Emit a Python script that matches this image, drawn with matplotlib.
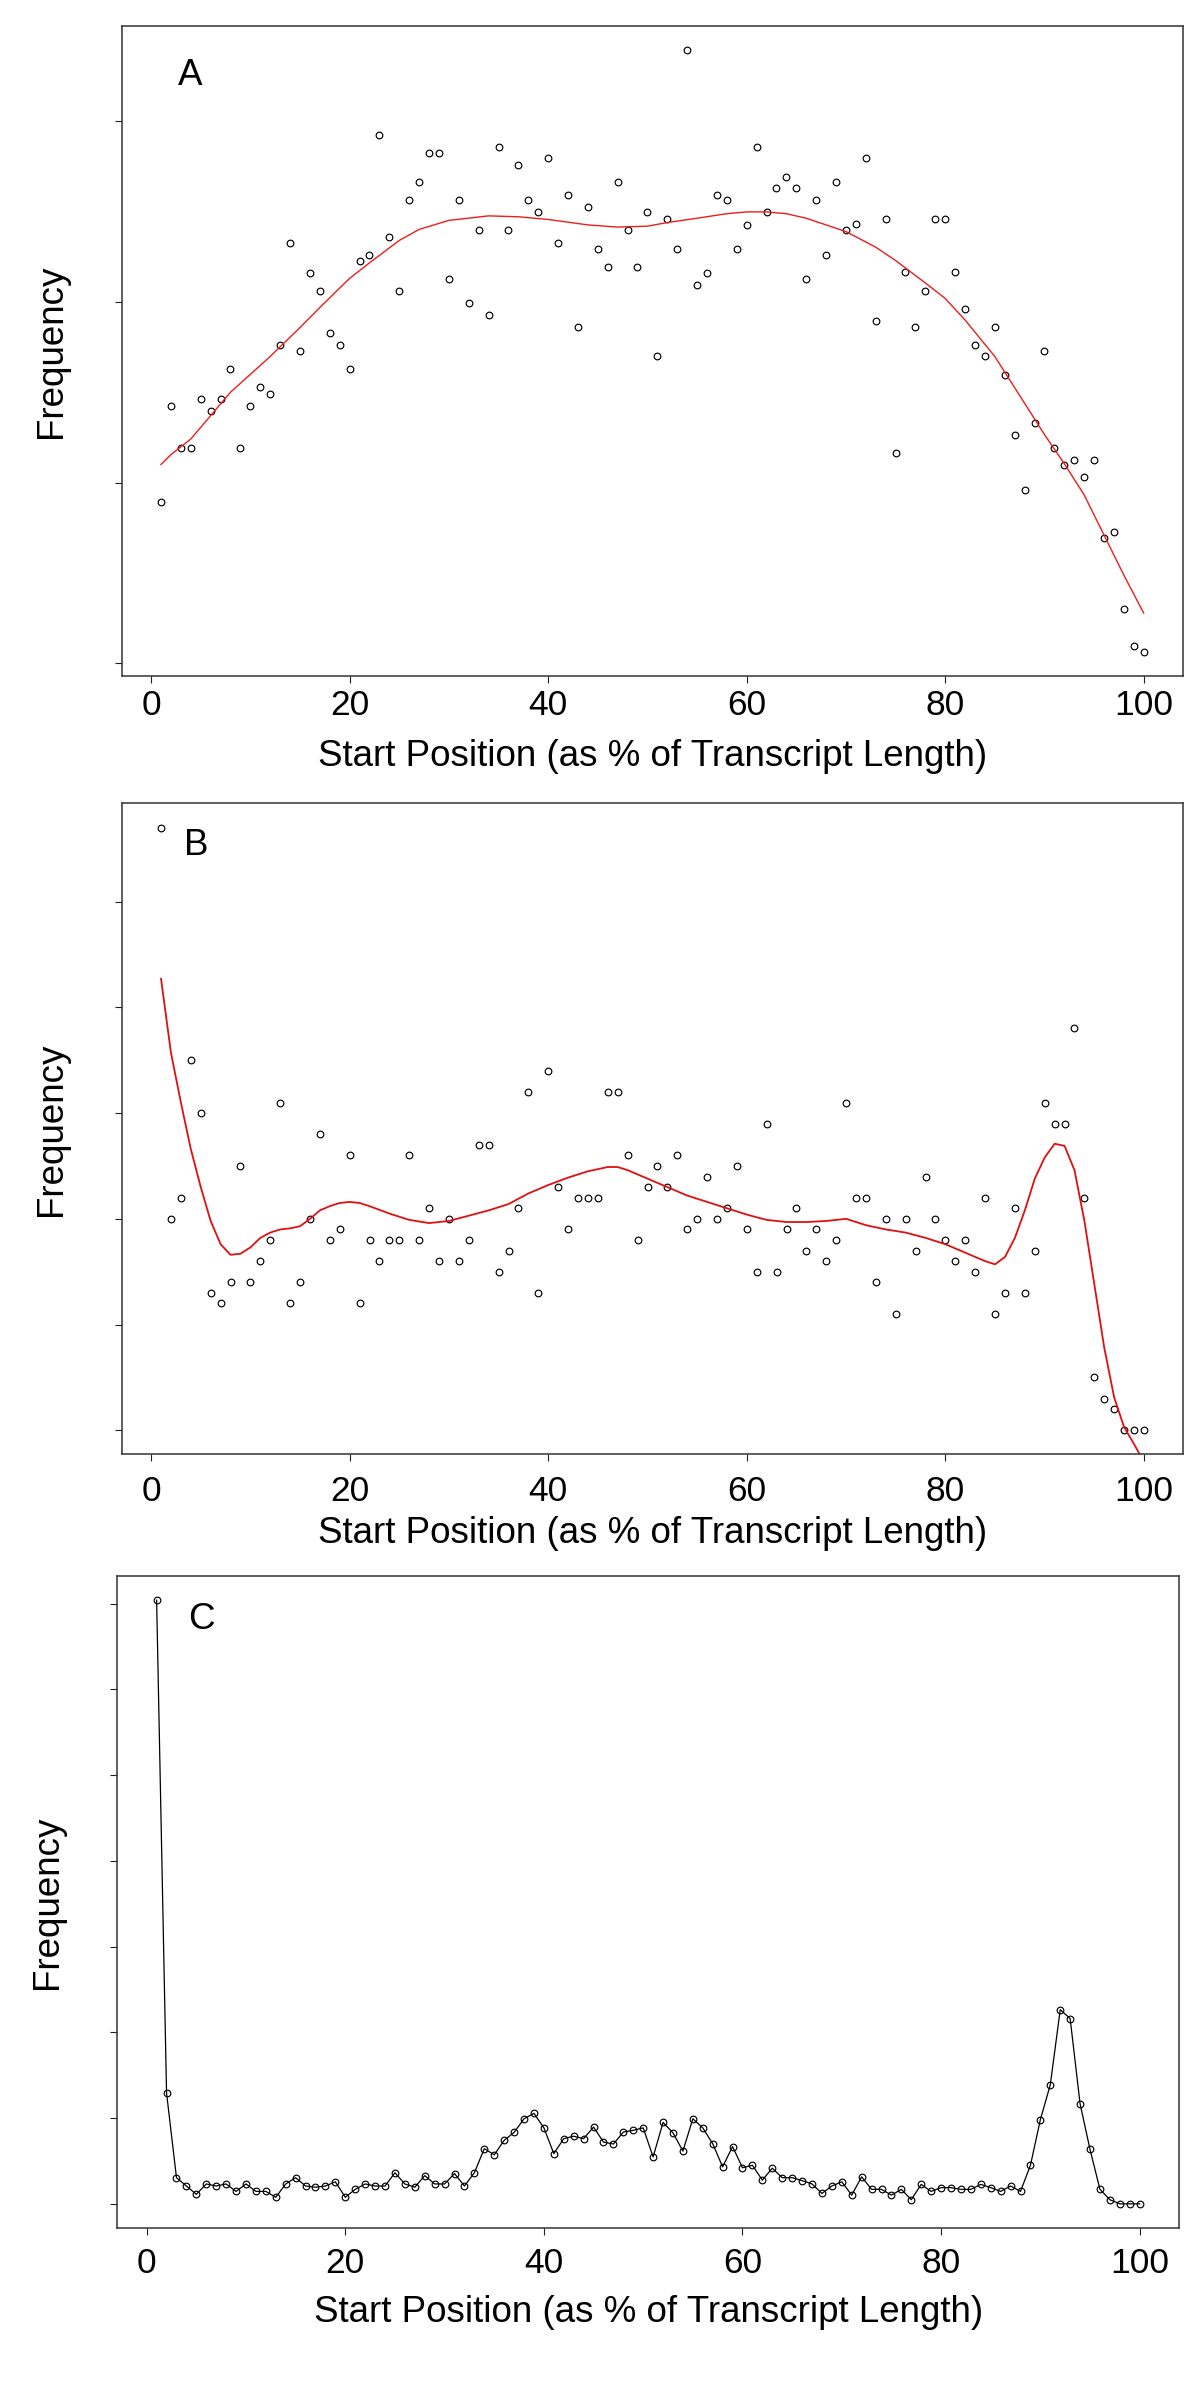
"""Start-position frequency profiles along transcripts (panels A, B, C)."""

import matplotlib
matplotlib.use("Agg")
import matplotlib.pyplot as plt
import numpy as np

plt.rcParams["font.family"] = ["Liberation Sans", "DejaVu Sans"]

positions = list(range(1, 101))
x_ticks = [0, 20, 40, 60, 80, 100]

# Panel A: scatter + smooth fit (y in arbitrary units, ticks unlabelled)
freq_a = [
    89.1, 142.7, 119.5, 119.5, 146.4, 139.8, 146.4, 163.0, 119.5, 142.7,
    153.1, 149.4, 176.0, 232.8, 172.8, 216.3, 205.9, 182.7, 176.0, 163.0,
    222.5, 226.2, 292.6, 236.0, 205.9, 256.3, 266.2, 282.7, 282.7, 212.8,
    256.3, 199.3, 239.8, 193.1, 285.9, 239.8, 276.0, 256.3, 249.6, 279.8,
    232.8, 259.5, 186.4, 252.8, 229.4, 219.5, 266.2, 239.8, 219.5, 249.6,
    169.9, 245.9, 229.4, 339.5, 209.6, 216.3, 259.5, 256.3, 229.4, 242.7,
    285.9, 249.6, 263.2, 269.4, 263.2, 212.8, 256.3, 226.2, 266.2, 239.8,
    243.0, 279.8, 189.4, 245.9, 116.3, 216.5, 186.4, 205.9, 245.9, 245.9,
    216.5, 196.3, 176.0, 169.9, 186.4, 159.5, 126.2, 96.0, 133.1, 172.8,
    119.5, 109.6, 112.8, 103.0, 112.8, 69.6, 72.8, 29.9, 9.6, 6.4,
]
smooth_a_x = [1, 2, 4, 8, 10, 12, 15, 17, 20, 22, 25, 27, 30, 34, 37, 40, 44,
              47, 50, 52, 55, 58, 60, 62, 64, 66, 68, 70, 73, 75, 78, 80, 82,
              85, 88, 90, 92, 94, 96, 98, 100]
smooth_a_y = [110.1, 115.6, 124.2, 150.1, 160.0, 169.9, 185.9, 197.0, 213.1,
              221.7, 234.1, 240.2, 245.2, 247.7, 247.2, 245.7, 242.7, 241.5,
              242.0, 244.0, 246.4, 248.9, 249.9, 249.9, 248.9, 246.4, 242.7,
              239.0, 230.4, 223.0, 210.6, 202.0, 190.1, 169.9, 144.0, 126.7,
              110.6, 93.3, 71.1, 48.9, 27.9]
y_ticks_a = [0, 100, 200, 300]

# Panel B: scatter + smooth fit
freq_b = [
    57, 20, 22, 35, 30, 13, 12, 14, 25, 14,
    16, 18, 31, 12, 14, 20, 28, 18, 19, 26,
    12, 18, 16, 18, 18, 26, 18, 21, 16, 20,
    16, 18, 27, 27, 15, 17, 21, 32, 13, 34,
    23, 19, 22, 22, 22, 32, 32, 26, 18, 23,
    25, 23, 26, 19, 20, 24, 20, 21, 25, 19,
    15, 29, 15, 19, 21, 17, 19, 16, 18, 31,
    22, 22, 14, 20, 11, 20, 17, 24, 20, 18,
    16, 18, 15, 22, 11, 13, 21, 13, 17, 31,
    29, 29, 38, 22, 5, 3, 2, 0, 0, 0,
]
smooth_b_x = [1, 2, 3, 4, 5, 6, 7, 8, 9, 10, 11, 12, 13, 14, 15, 16, 17, 18,
              19, 20, 21, 22, 24, 26, 28, 30, 32, 34, 36, 38, 40, 42, 44, 46,
              47, 48, 50, 52, 54, 56, 58, 60, 62, 64, 66, 68, 70, 72, 74, 76,
              78, 80, 82, 84, 85, 86, 87, 88, 89, 90, 91, 92, 93, 94, 95, 96,
              97, 98, 99, 100]
smooth_b_y = [42.7, 35.7, 31.0, 26.6, 23.0, 19.8, 17.6, 16.6, 16.7, 17.3,
              18.2, 18.7, 19.0, 19.1, 19.3, 20.0, 20.8, 21.2, 21.5, 21.6,
              21.5, 21.2, 20.5, 19.9, 19.6, 19.8, 20.3, 20.8, 21.4, 22.4,
              23.2, 23.9, 24.5, 24.9, 24.9, 24.6, 23.8, 23.0, 22.2, 21.6,
              21.0, 20.4, 19.9, 19.7, 19.7, 19.8, 20.0, 19.4, 19.0, 18.7,
              18.2, 17.6, 16.8, 16.0, 15.7, 16.4, 18.2, 20.8, 23.8, 25.8,
              27.1, 26.9, 24.6, 19.8, 13.8, 7.8, 3.1, 0.3, -1.3, -3.0]
y_ticks_b = [0, 10, 20, 30, 40, 50]

# Panel C: points joined by a line
freq_c = [
    704, 129.2, 30.5, 20.8, 11.1, 23.2, 20.8, 23.2, 14.5, 23.2,
    14.5, 14.5, 7.7, 23.2, 30.5, 20.8, 19.4, 20.8, 25.7, 7.7,
    16.9, 23.2, 20.8, 20.8, 36.3, 23.2, 19.4, 32.9, 23.2, 23.2,
    35.3, 20.8, 36.3, 64.4, 57.1, 74.1, 83.3, 99.2, 105.5, 88.6,
    58.6, 76.0, 78.9, 76.0, 89.5, 72.1, 69.7, 83.7, 85.7, 88.6,
    54.7, 94.9, 82.8, 61.5, 99.2, 88.6, 70.2, 43.1, 66.8, 42.1,
    45.0, 27.6, 41.6, 30.5, 30.5, 27.1, 23.2, 12.1, 20.8, 25.7,
    10.2, 31.5, 16.9, 16.9, 10.2, 16.9, 4.8, 22.7, 14.5, 18.9,
    18.9, 16.9, 16.9, 22.7, 18.9, 14.5, 20.8, 14.5, 45.0, 98.3,
    138.9, 226.5, 215.9, 116.6, 63.4, 16.9, 4.8, 0, 0, 0,
]
y_ticks_c = [0, 100, 200, 300, 400, 500, 600, 700]

XLABEL = "Start Position (as % of Transcript Length)"
YLABEL = "Frequency"


def r_limits(values):
    """R-style axis range: data range padded by 4% on each side."""
    lo, hi = min(values), max(values)
    pad = (hi - lo) * 0.04
    return lo - pad, hi + pad


def style_axes(ax, y_vals, y_ticks, letter, letter_xy, tick_pad, xlabel_y):
    ax.set_xlim(r_limits(positions))
    ax.set_ylim(r_limits(y_vals))
    ax.set_xticks(x_ticks)
    ax.set_yticks(y_ticks)
    ax.tick_params(axis="both", direction="out", length=4.7, width=0.8,
                   color="#222222", labelsize=25.5)
    ax.tick_params(axis="x", pad=tick_pad)
    ax.tick_params(axis="y", labelleft=False)
    for sp in ax.spines.values():
        sp.set_linewidth(1.1)
        sp.set_color("#333333")
    ax.set_xlabel(XLABEL, fontsize=26.5)
    ax.xaxis.set_label_coords(0.5, xlabel_y)
    ax.xaxis.label.set_verticalalignment("center")
    ax.set_ylabel(YLABEL, fontsize=26.5)
    ax.yaxis.set_label_coords(-0.066, 0.5)
    ax.yaxis.label.set_verticalalignment("center")
    ax.text(letter_xy[0], letter_xy[1], letter, transform=ax.transAxes,
            fontsize=26.5, ha="left", va="center")


fig = plt.figure(figsize=(12, 24), dpi=100)
ax_a = fig.add_axes([0.10142, 0.71833, 0.88442, 0.27088])
ax_b = fig.add_axes([0.10142, 0.39396, 0.88467, 0.27129])
ax_c = fig.add_axes([0.09775, 0.07167, 0.88475, 0.27167])

marker_kw = dict(linestyle="none", marker="o", ms=4.8, mfc="none",
                 mec="black", mew=0.85)

# A
ax_a.plot(positions, freq_a, **marker_kw)
ax_a.plot(smooth_a_x, smooth_a_y, color="#ee1c1c", lw=1.0)
style_axes(ax_a, freq_a, y_ticks_a, "A", (0.053, 0.923), 4.9, -0.1238)

# B
ax_b.plot(positions, freq_b, **marker_kw)
ax_b.plot(smooth_b_x, smooth_b_y, color="#e01010", lw=1.3)
style_axes(ax_b, freq_b, y_ticks_b, "B", (0.0587, 0.936), 10.0, -0.1213)

# C
ax_c.plot(positions, freq_c, color="black", lw=0.9, marker="o", ms=4.8,
          mfc="none", mec="black", mew=0.85)
style_axes(ax_c, freq_c, y_ticks_c, "C", (0.0666, 0.9325), 8.7, -0.1296)

fig.savefig("out.png", dpi=100)
